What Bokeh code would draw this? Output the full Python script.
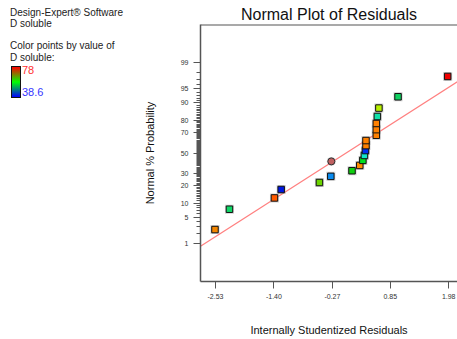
from statistics import NormalDist
from bokeh.plotting import figure
from bokeh.layouts import row
from bokeh.models import FixedTicker, Range1d, ColumnDataSource, Span, Div
from bokeh.embed import file_html
from bokeh.resources import INLINE

# ---------------- data ----------------
residuals = [-2.54, -2.26, -1.39, -1.26, -0.52, -0.30, 0.11, 0.26, 0.32, 0.35,
             0.37, 0.38, 0.38, 0.58, 0.58, 0.58, 0.60, 0.63, 1.00, 1.96]
probability_pct = [2.5, 7.5, 12.5, 17.5, 22.5, 27.5, 32.5, 37.5, 42.5, 47.5,
                   52.5, 57.5, 62.5, 67.5, 72.5, 77.5, 82.5, 87.5, 92.5, 97.5]
point_colors = ["#F28500", "#10D868", "#FF5A00", "#0018E0", "#6CD400", "#0A8CF0",
                "#10D010", "#FF8C00", "#00E020", "#10E6C8", "#0030F0", "#FF8000",
                "#FF8000", "#FF8000", "#FF8000", "#FF8000", "#10E0A8", "#B8F000",
                "#10D060", "#F00000"]
circle_res = [-0.29]
circle_pct = [41.5]
fit_res = [-2.82, 2.15]
fit_pct = [0.85, 96.6]

y_major_pct = [1, 5, 10, 20, 30, 50, 70, 80, 90, 95, 99]
y_major_labels = ["1", "5", "10", "20", "30", "50", "70", "80", "90", "95", "99"]
y_minor_pct = [2, 3, 4, 6, 7, 8, 9] + list(range(11, 95)) + [96, 97, 98]
x_ticks = [-2.53, -1.40, -0.27, 0.85, 1.98]
x_tick_labels = ["-2.53", "-1.40", "-0.27", "0.85", "1.98"]

color_low, color_high = 38.6, 78
info_lines = ["Design-Expert\u00ae Software", "D soluble", "Color points by value of", "D soluble:"]
gradient_colors = ["#ff0000", "#00ff00", "#0000ff"]

# ---------------- helpers ----------------
nd = NormalDist()
def z(p):
    return nd.inv_cdf(p / 100.0)

FONT = "Liberation Sans"

# ---------------- left info panel ----------------
line_centers = [12.5, 23.5, 46, 58]
parts = ['<div style="position:relative;width:130px;height:339px;'
         'font-family:\'Liberation Sans\',Arial,sans-serif;color:#222222;">']
for txt, cy in zip(info_lines, line_centers):
    parts.append('<div style="position:absolute;left:10px;top:%.1fpx;font-size:10px;'
                 'line-height:12px;white-space:nowrap;">%s</div>' % (cy - 6, txt))
parts.append('<div style="position:absolute;left:11px;top:66px;width:10px;height:32px;'
             'box-sizing:border-box;border:1.5px solid #111111;'
             'background:linear-gradient(to bottom,%s);"></div>' % ",".join(gradient_colors))
parts.append('<div style="position:absolute;left:22px;top:64px;font-size:11px;line-height:12px;'
             'color:#FF3030;">%s</div>' % color_high)
parts.append('<div style="position:absolute;left:22px;top:86px;font-size:11px;line-height:12px;'
             'color:#3535FF;">%s</div>' % color_low)
parts.append('</div>')
left = Div(text="".join(parts), width=130, height=339, margin=0)

# ---------------- main plot ----------------
zmax = 3.29
p = figure(width=327, height=339, x_range=Range1d(-2.82, 2.15), y_range=Range1d(-zmax, zmax),
           output_backend="svg", toolbar_location=None,
           min_border_left=70, min_border_right=0, min_border_top=24, min_border_bottom=58,
           title="Normal Plot of Residuals")
p.title.text_font = FONT
p.title.text_font_size = "16px"
p.title.text_font_style = "normal"
p.title.align = "center"
p.title.text_color = "#111111"
p.title.standoff = 4
p.grid.visible = False
p.outline_line_color = None

AX = "#555555"
p.xaxis.ticker = FixedTicker(ticks=x_ticks)
p.xaxis.major_label_overrides = {t: l for t, l in zip(x_ticks, x_tick_labels)}
p.xaxis.axis_label = "Internally Studentized Residuals"
yt = [z(v) for v in y_major_pct]
p.yaxis.ticker = FixedTicker(ticks=yt, minor_ticks=[z(v) for v in y_minor_pct])
p.yaxis.major_label_overrides = {t: l for t, l in zip(yt, y_major_labels)}
p.yaxis.axis_label = "Normal % Probability"

for ax in (p.xaxis[0], p.yaxis[0]):
    ax.axis_line_color = AX
    ax.axis_line_width = 1.5
    ax.major_tick_line_color = AX
    ax.minor_tick_line_color = AX
    ax.major_tick_in = 0
    ax.major_tick_out = 7
    ax.minor_tick_in = 0
    ax.minor_tick_out = 4
    ax.major_label_text_font = FONT
    ax.major_label_text_font_size = "7px"
    ax.major_label_text_color = "#333333"
    ax.axis_label_text_font = FONT
    ax.axis_label_text_font_size = "11px"
    ax.axis_label_text_font_style = "normal"
    ax.axis_label_text_color = "#111111"
p.xaxis.minor_tick_line_color = None
p.xaxis.axis_label_standoff = 22
p.yaxis.axis_label_standoff = 22

p.add_layout(Span(location=zmax, dimension="width", line_color=AX, line_width=2))

# fitted line
p.line(x=fit_res, y=[z(v) for v in fit_pct], line_color="#FF8080", line_width=1.2)

# points
src = ColumnDataSource(dict(x=residuals, y=[z(v) for v in probability_pct], c=point_colors))
p.scatter("x", "y", source=src, marker="square", size=9, fill_color="#999999",
          fill_alpha=0.45, line_color=None)
p.scatter("x", "y", source=src, marker="square", size=6.5, fill_color="c",
          line_color="#111111", line_width=1)
p.scatter(x=circle_res, y=[z(v) for v in circle_pct], marker="circle", size=9,
          fill_color="#999999", fill_alpha=0.45, line_color=None)
p.scatter(x=circle_res, y=[z(v) for v in circle_pct], marker="circle", size=7,
          fill_color="#C06060", line_color="#333333", line_width=1)

layout = row(left, p)
open("out.html", "w").write(file_html(layout, INLINE))
